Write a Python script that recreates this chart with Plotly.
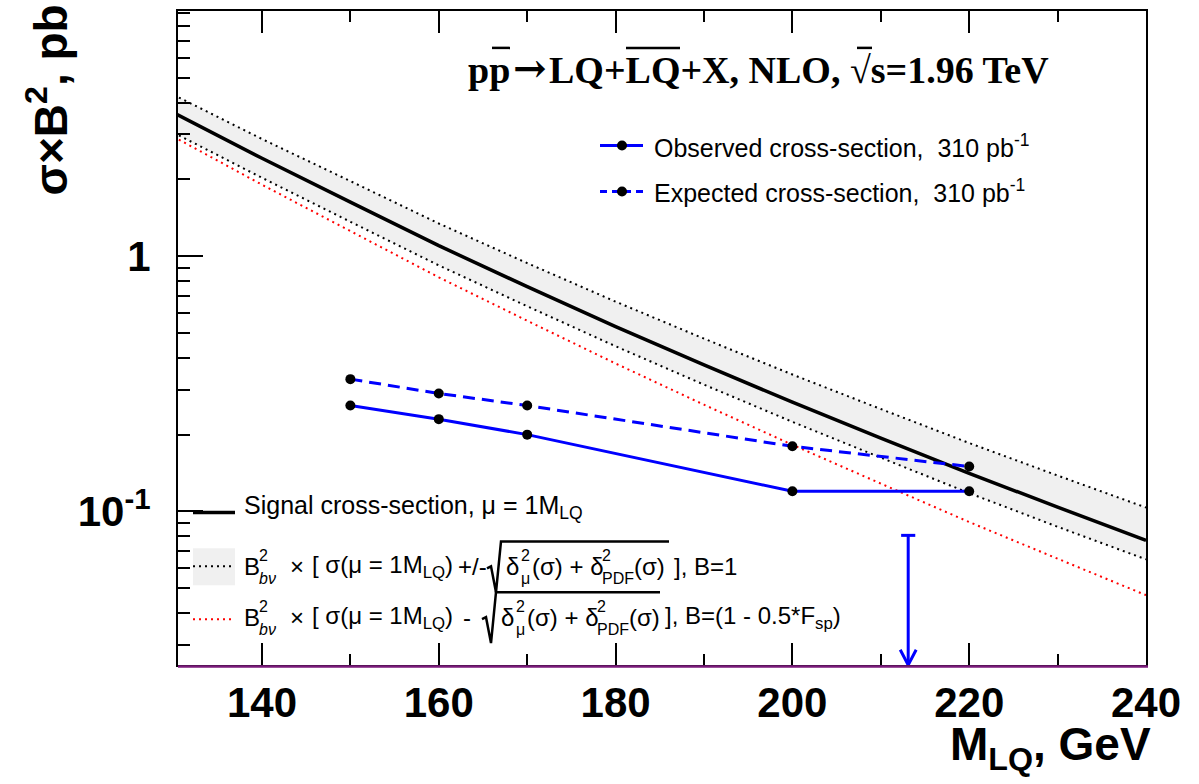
import plotly.graph_objects as go

# Theory curves (pb) on a 10 GeV mass grid
mass_grid = [130, 140, 150, 160, 170, 180, 190, 200, 210, 220, 230, 240]
sigma_nlo = [3.65, 2.42, 1.63, 1.10, 0.76, 0.53, 0.375, 0.268, 0.194, 0.141, 0.104, 0.077]
sigma_band_up = [4.29, 2.88, 1.97, 1.344, 0.940, 0.664, 0.4755, 0.344, 0.252, 0.1854, 0.1383, 0.1036]
sigma_band_down = [3.05, 2.03, 1.365, 0.921, 0.637, 0.444, 0.314, 0.2245, 0.1625, 0.118, 0.0871, 0.0649]
sigma_low_bsp = [2.94, 1.907, 1.255, 0.827, 0.559, 0.380, 0.262, 0.1825, 0.1286, 0.0909, 0.0653, 0.0470]

# 95% CL upper limits (pb)
limit_mass = [150, 160, 170, 200, 220]
observed_xsec = [0.26, 0.23, 0.20, 0.12, 0.12]
expected_xsec = [0.33, 0.29, 0.26, 0.18, 0.15]

# Mass limit marker
limit_arrow_mass = 213.1
limit_arrow_top = 0.0806

# Axis layout
x_range = [130.5, 240.0]
y_range_log = [-1.6016, 0.961]
x_major = [140, 160, 180, 200, 220, 240]
x_minor = [150, 170, 190, 210, 230]
y_major = [0.1, 1]
y_major_text = ["10<sup>-1</sup>", "1"]
y_minor = [m * d for d in (0.01, 0.1, 1) for m in range(2, 10)]

W, H = 1199, 784
L, R, T, B = 178, 1146, 9, 665


def px(x):
    return (x - L) / (R - L)


def py(y):
    return (B - y) / (B - T)


BLUE = "#0000ff"
RED = "#ff0000"
BAND = "#f0f0f0"
SANS = "Liberation Sans, Arial, sans-serif"
SERIF = "Liberation Serif, Times New Roman, serif"

fig = go.Figure()

# uncertainty band
fig.add_trace(go.Scatter(x=mass_grid, y=sigma_band_down, mode="lines",
                         line=dict(width=0), showlegend=False, hoverinfo="skip"))
fig.add_trace(go.Scatter(x=mass_grid, y=sigma_band_up, mode="lines", fill="tonexty",
                         fillcolor=BAND, line=dict(width=0), showlegend=False, hoverinfo="skip"))
for band_edge in (sigma_band_up, sigma_band_down):
    fig.add_trace(go.Scatter(x=mass_grid, y=band_edge, mode="lines",
                             line=dict(color="black", width=2, dash="2px,4px"),
                             showlegend=False))
fig.add_trace(go.Scatter(x=mass_grid, y=sigma_low_bsp, mode="lines",
                         line=dict(color=RED, width=2, dash="2px,4px"), showlegend=False))
fig.add_trace(go.Scatter(x=mass_grid, y=sigma_nlo, mode="lines",
                         line=dict(color="black", width=3.5), showlegend=False))

# limits
fig.add_trace(go.Scatter(x=limit_mass, y=expected_xsec, mode="lines+markers",
                         line=dict(color=BLUE, width=3, dash="12px,7px"),
                         marker=dict(color="black", size=10), showlegend=False))
fig.add_trace(go.Scatter(x=limit_mass, y=observed_xsec, mode="lines+markers",
                         line=dict(color=BLUE, width=3),
                         marker=dict(color="black", size=10), showlegend=False))

# mass-limit arrow: shaft, cap and open head
y_floor = 10 ** y_range_log[0]
head_dlog = 0.06
head_dx = 0.9
cap_dx = 0.8
arrow_x = [limit_arrow_mass, limit_arrow_mass, None,
           limit_arrow_mass - cap_dx, limit_arrow_mass + cap_dx, None,
           limit_arrow_mass - head_dx, limit_arrow_mass, limit_arrow_mass + head_dx]
arrow_y = [limit_arrow_top, y_floor, None,
           limit_arrow_top, limit_arrow_top, None,
           y_floor * 10 ** head_dlog, y_floor, y_floor * 10 ** head_dlog]
fig.add_trace(go.Scatter(x=arrow_x, y=arrow_y, mode="lines",
                         line=dict(color=BLUE, width=3), showlegend=False, cliponaxis=False))

shapes = []
annotations = []


def text(x, y, s, size=25, anchor="left", family=SANS, weight="normal", yanchor="middle", angle=0):
    annotations.append(dict(x=px(x), y=py(y), xref="paper", yref="paper", text=s,
                            showarrow=False, xanchor=anchor, yanchor=yanchor, textangle=angle,
                            borderpad=0,
                            font=dict(family=family, size=size, color="black", weight=weight)))


def seg(x0, y0, x1, y1, color="black", width=2, dash="solid"):
    shapes.append(dict(type="line", xref="paper", yref="paper", x0=px(x0), y0=py(y0),
                       x1=px(x1), y1=py(y1), line=dict(color=color, width=width, dash=dash)))


# bottom purple rule
seg(L, B + 1.5, R + 2, B + 1.5, color="#7a1a7a", width=2.5)

# title
text(511, 68, "pp", size=38, anchor="right", family=SERIF, weight="bold")
text(530, 66, "→", size=40, anchor="center", family="DejaVu Serif", weight="bold")
text(548, 68, "LQ+LQ+X, NLO, √s=1.96 TeV", size=38, anchor="left", family=SERIF, weight="bold")
seg(492, 46, 510, 46, width=2.5)
seg(626, 46, 680, 46, width=2.5)
seg(857, 46, 872, 46, width=2.5)

# axis titles
text(47, 2, "σ×B<sup>2</sup>, pb", size=46, anchor="center", weight="bold", yanchor="top", angle=-90)
text(1152, 748, "M<sub>LQ</sub>, GeV", size=46, anchor="right", weight="bold")

# upper legend
for yy, solid, label in ((144, True, "Observed"), (190, False, "Expected")):
    seg(600, yy, 643, yy, color=BLUE, width=3, dash="solid" if solid else "7px,5px")
    shapes.append(dict(type="circle", xref="paper", yref="paper", x0=px(617), x1=px(627),
                       y0=py(yy - 5), y1=py(yy + 5), fillcolor="black", line=dict(width=0)))
    text(653, yy, label + " cross-section,  310 pb<sup>-1</sup>")

# lower legend
seg(193, 512, 235, 512, width=3.5)
text(243, 507, "Signal cross-section, μ = 1M<sub>LQ</sub>")

shapes.append(dict(type="rect", xref="paper", yref="paper", x0=px(193), x1=px(235),
                   y0=py(585), y1=py(548), fillcolor=BAND, line=dict(width=0), layer="below"))
seg(193, 566, 235, 566, width=2, dash="2px,4px")
seg(193, 619, 235, 619, color=RED, width=2, dash="2px,4px")

FS = 24


def stacked(x, y, base, sup, sub):
    text(x, y, base, size=FS)
    text(x + 15, y - 11, sup, size=16)
    text(x + 15, y + 12, sub, size=16)


for yy, op, x_op, x_rad, x_end, after in (
        (566, "+/-", 457, 487, 669, "], B=1"),
        (617, "-", 462, 482, 660, "], B=(1 - 0.5*F<sub>sp</sub>)")):
    stacked(243, yy, "B", "2", "<i>bν</i>")
    text(289, yy, "×", size=FS)
    text(311, yy, "[ σ(μ = 1M<sub>LQ</sub>)", size=FS)
    text(x_op, yy, op, size=FS)
    path = (f"M {px(x_rad)},{py(yy + 2)} L {px(x_rad + 4)},{py(yy)} "
            f"L {px(x_rad + 9)},{py(yy + 26)} L {px(x_rad + 14)},{py(yy - 25)} "
            f"L {px(x_end)},{py(yy - 25)}")
    shapes.append(dict(type="path", xref="paper", yref="paper", path=path,
                       line=dict(color="black", width=2.5)))
    xi = x_rad + 18
    stacked(xi, yy, "δ", "2", "μ")
    text(xi + 26, yy, "(σ) + δ", size=FS)
    text(xi + 96, yy - 11, "2", size=16)
    text(xi + 96, yy + 12, "PDF", size=16)
    text(xi + 128, yy, "(σ)", size=FS)
    text(x_end + 4, yy, after, size=FS)

axis_common = dict(showline=True, linecolor="black", linewidth=2, ticks="inside",
                   tickcolor="black", tickwidth=2, showgrid=False, zeroline=False,
                   tickfont=dict(family=SANS, size=42, color="black", weight="bold"))

fig.update_layout(
    width=W, height=H, autosize=False,
    margin=dict(l=L, r=W - R, t=T, b=H - B),
    paper_bgcolor="white", plot_bgcolor="white",
    xaxis=dict(range=x_range, tickmode="array", tickvals=x_major,
               ticktext=[str(v) for v in x_major], ticklen=22, mirror="ticks",
               ticklabelstandoff=0,
               minor=dict(tickmode="array", tickvals=x_minor, ticklen=11, tickwidth=2,
                          tickcolor="black", ticks="inside"),
               **axis_common),
    yaxis=dict(type="log", range=y_range_log, tickmode="array", tickvals=y_major,
               ticktext=y_major_text, ticklen=25, mirror=True, ticklabelstandoff=17,
               minor=dict(tickmode="array", tickvals=y_minor, ticklen=12, tickwidth=2,
                          tickcolor="black", ticks="inside"),
               **axis_common),
    shapes=shapes,
    annotations=annotations,
)

fig.write_html("out.html")
